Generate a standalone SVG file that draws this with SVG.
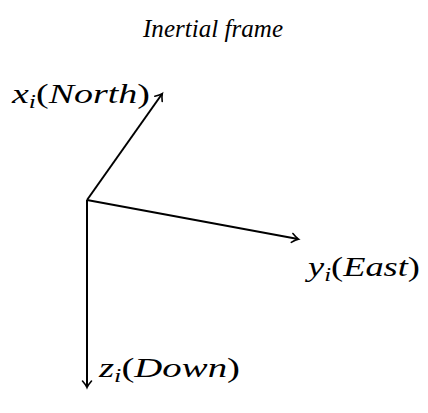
<svg xmlns="http://www.w3.org/2000/svg" width="428" height="413" viewBox="0 0 428 413">
<style>
.t{font-family:"Liberation Serif","DejaVu Serif",serif;font-size:28px;fill:#000}
.i{font-style:italic}
.s{font-size:19px;font-style:italic}
.ax{stroke:#000;stroke-width:2;fill:none;marker-end:url(#ah)}
</style>
<defs>
<marker id="ah" markerWidth="12" markerHeight="12" refX="0" refY="0" viewBox="-8 -6 10 12" orient="auto" markerUnits="userSpaceOnUse">
<path d="M-6,-4.5 Q-2,-1 0.5,0 Q-2,1 -6,4.5" fill="none" stroke="#000" stroke-width="1.6" stroke-linecap="round"/>
</marker>
</defs>
<g id="title"><text class="t i" x="143" y="37" textLength="140" lengthAdjust="spacing" style="font-size:25px">Inertial frame</text></g>
<g id="connectors">
<line class="ax" x1="87" y1="200" x2="162" y2="94"/>
<line class="ax" x1="87" y1="200" x2="298" y2="239"/>
<line class="ax" x1="87" y1="200" x2="87" y2="387"/>
</g>
<g id="x-label"><text class="t" x="12" y="103" textLength="138" lengthAdjust="spacingAndGlyphs"><tspan class="i">x</tspan><tspan class="s" dy="5">i</tspan><tspan dy="-5">(</tspan><tspan class="i">North</tspan>)</text></g>
<g id="y-label"><text class="t" x="308" y="276" textLength="112" lengthAdjust="spacingAndGlyphs"><tspan class="i">y</tspan><tspan class="s" dy="5">i</tspan><tspan dy="-5">(</tspan><tspan class="i">East</tspan>)</text></g>
<g id="z-label"><text class="t" x="99" y="377" textLength="141" lengthAdjust="spacingAndGlyphs"><tspan class="i">z</tspan><tspan class="s" dy="5">i</tspan><tspan dy="-5">(</tspan><tspan class="i">Down</tspan>)</text></g>
</svg>
